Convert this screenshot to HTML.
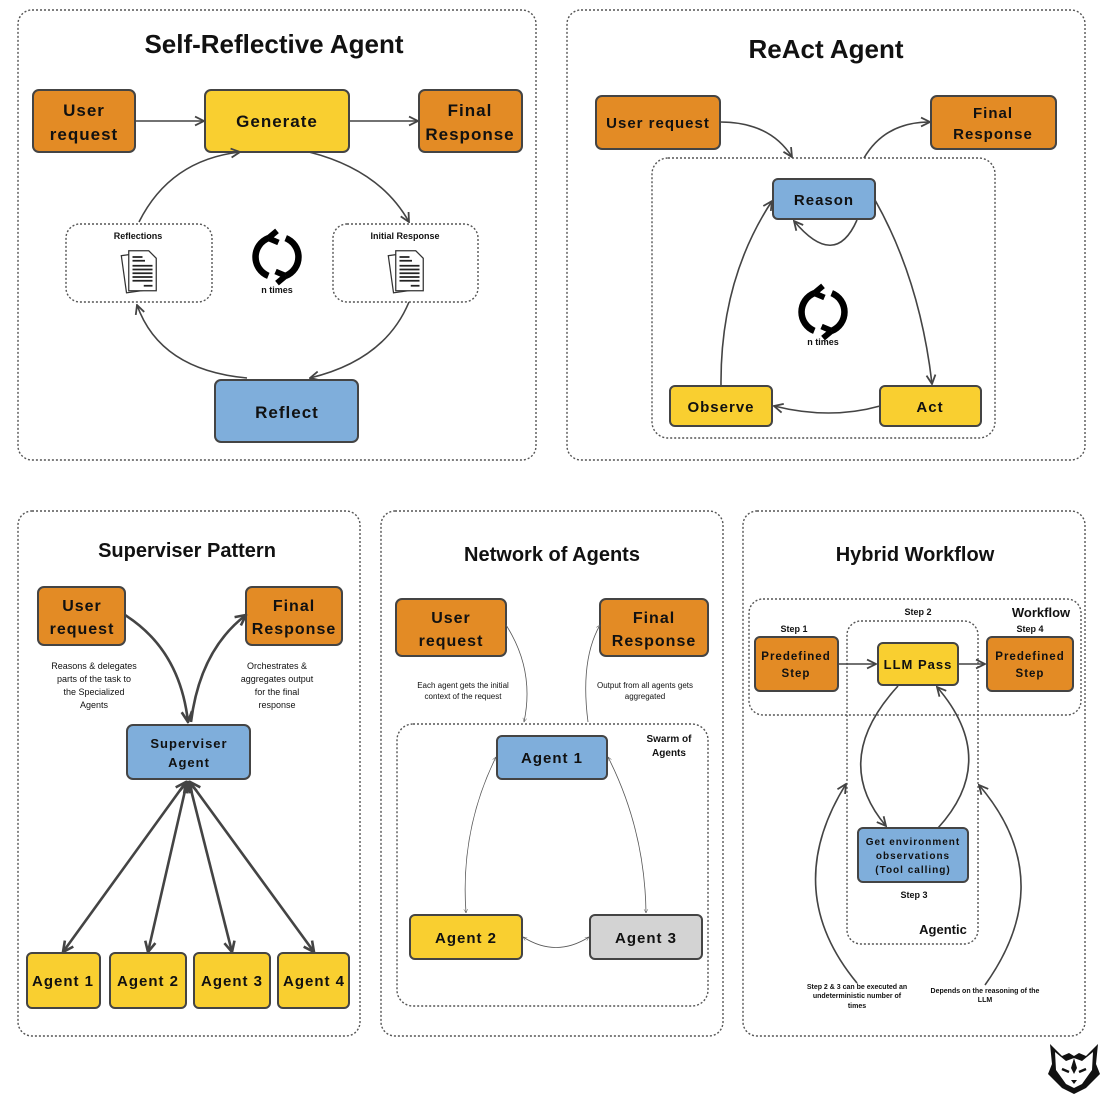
<!DOCTYPE html>
<html><head><meta charset="utf-8"><style>
html,body{margin:0;padding:0;background:#fff}
svg{display:block}
text{font-family:"Liberation Sans","DejaVu Sans",sans-serif;fill:#111}
.t{font-weight:bold;text-anchor:middle}
.l{letter-spacing:1px}
.box{stroke:#444;stroke-width:2}
.o{fill:#E38B25}.y{fill:#F9CF30}.b{fill:#7FAEDB}.g{fill:#D3D3D3}
.dot{fill:none;stroke:#555;stroke-width:1.4;stroke-dasharray:2 2}
.ln{fill:none;stroke:#444;stroke-width:1.6}
.th{fill:none;stroke:#444;stroke-width:2.6}
.tn{fill:none;stroke:#555;stroke-width:0.8}
.s{font-size:9px;text-anchor:middle}
</style></head><body>
<svg width="1106" height="1100" viewBox="0 0 1106 1100" xmlns="http://www.w3.org/2000/svg">
<defs>
<marker id="a" viewBox="0 0 10 10" refX="9" refY="5" markerWidth="7" markerHeight="7" orient="auto-start-reverse"><path d="M1,1 L9,5 L1,9" fill="none" stroke="#444" stroke-width="1.6"/></marker>
<marker id="at" viewBox="0 0 10 10" refX="9" refY="5" markerWidth="5" markerHeight="5" orient="auto-start-reverse"><path d="M1,1 L9,5 L1,9" fill="none" stroke="#444" stroke-width="2"/></marker>
<marker id="an" viewBox="0 0 10 10" refX="9" refY="5" markerWidth="6" markerHeight="6" orient="auto-start-reverse"><path d="M1,1 L9,5 L1,9" fill="none" stroke="#555" stroke-width="1"/></marker>
<g id="cyc"><path d="M-6,-13 A14,14 0 0 0 -6,13" fill="none" stroke="#000" stroke-width="4.5"/><path d="M-6,-13 l6,-5 M-6,-13 l7,3" stroke="#000" stroke-width="4"/><path d="M6,13 A14,14 0 0 0 6,-13" fill="none" stroke="#000" stroke-width="4.5"/><path d="M6,13 l-6,5 M6,13 l-7,-3" stroke="#000" stroke-width="4"/></g>
<g id="doc"><rect x="-13" y="-15" width="22" height="30" fill="#fff" stroke="#333" transform="rotate(-8)"/><path d="M-9,-17 h16 l6,6 v26 h-22 z" fill="#fff" stroke="#333"/><path d="M-6,-12 h8 M-6,-9 h10 M-6,-5 h16 M-6,-2 h16 M-6,1 h16 M-6,4 h16 M-6,7 h16 M3,11 h7" stroke="#222" stroke-width="1.4"/></g>
</defs>

<!-- Panel 1 -->
<rect x="18" y="10" width="518" height="450" rx="14" class="dot"/>
<text x="274" y="53" class="t" font-size="26">Self-Reflective Agent</text>
<rect x="33" y="90" width="102" height="62" rx="6" class="box o"/>
<text x="84" y="116" class="t l" font-size="17">User</text><text x="84" y="140" class="t l" font-size="17">request</text>
<rect x="205" y="90" width="144" height="62" rx="6" class="box y"/>
<text x="277" y="127" class="t l" font-size="17">Generate</text>
<rect x="419" y="90" width="103" height="62" rx="6" class="box o"/>
<text x="470" y="116" class="t l" font-size="17">Final</text><text x="470" y="140" class="t l" font-size="17">Response</text>
<rect x="215" y="380" width="143" height="62" rx="6" class="box b"/>
<text x="287" y="418" class="t l" font-size="17">Reflect</text>
<rect x="66" y="224" width="146" height="78" rx="14" class="dot"/>
<text x="138" y="239" class="t" font-size="9">Reflections</text>
<use href="#doc" transform="translate(140,272) scale(1.25)"/>
<rect x="333" y="224" width="145" height="78" rx="14" class="dot"/>
<text x="405" y="239" class="t" font-size="9">Initial Response</text>
<use href="#doc" transform="translate(407,272) scale(1.25)"/>
<use href="#cyc" transform="translate(277,257) scale(1.45)"/>
<text x="277" y="293" class="t" font-size="9">n times</text>
<line x1="135" y1="121" x2="204" y2="121" class="ln" marker-end="url(#a)"/>
<line x1="349" y1="121" x2="418" y2="121" class="ln" marker-end="url(#a)"/>
<path d="M139,222 Q170,160 240,152" class="ln" marker-end="url(#a)"/>
<path d="M309,152 Q380,170 409,222" class="ln" marker-end="url(#a)"/>
<path d="M409,302 Q385,360 310,378" class="ln" marker-end="url(#a)"/>
<path d="M247,378 Q160,370 137,305" class="ln" marker-end="url(#a)"/>

<!-- Panel 2 -->
<rect x="567" y="10" width="518" height="450" rx="14" class="dot"/>
<text x="826" y="58" class="t" font-size="26">ReAct Agent</text>
<rect x="652" y="158" width="343" height="280" rx="16" class="dot"/>
<rect x="596" y="96" width="124" height="53" rx="6" class="box o"/>
<text x="658" y="128" class="t l" font-size="15">User request</text>
<rect x="931" y="96" width="125" height="53" rx="6" class="box o"/>
<text x="993" y="118" class="t l" font-size="15">Final</text><text x="993" y="139" class="t l" font-size="15">Response</text>
<rect x="773" y="179" width="102" height="40" rx="5" class="box b"/>
<text x="824" y="205" class="t l" font-size="15">Reason</text>
<rect x="670" y="386" width="102" height="40" rx="5" class="box y"/>
<text x="721" y="412" class="t l" font-size="15">Observe</text>
<rect x="880" y="386" width="101" height="40" rx="5" class="box y"/>
<text x="930" y="412" class="t l" font-size="15">Act</text>
<use href="#cyc" transform="translate(823,312) scale(1.45)"/>
<text x="823" y="345" class="t" font-size="9">n times</text>
<path d="M720,122 Q770,122 792,157" class="ln" marker-end="url(#a)"/>
<path d="M864,158 Q885,122 930,122" class="ln" marker-end="url(#a)"/>
<path d="M857,220 Q835,270 794,221" class="ln" marker-end="url(#a)"/>
<path d="M875,200 Q920,280 932,384" class="ln" marker-end="url(#a)"/>
<path d="M880,406 Q830,420 774,406" class="ln" marker-end="url(#a)"/>
<path d="M721,386 Q720,280 772,201" class="ln" marker-end="url(#a)"/>

<!-- Panel 3 -->
<rect x="18" y="511" width="342" height="525" rx="14" class="dot"/>
<text x="187" y="557" class="t" font-size="20">Superviser Pattern</text>
<rect x="38" y="587" width="87" height="58" rx="6" class="box o"/>
<text x="82" y="611" class="t l" font-size="16">User</text><text x="82" y="634" class="t l" font-size="16">request</text>
<rect x="246" y="587" width="96" height="58" rx="6" class="box o"/>
<text x="294" y="611" class="t l" font-size="16">Final</text><text x="294" y="634" class="t l" font-size="16">Response</text>
<rect x="127" y="725" width="123" height="54" rx="6" class="box b"/>
<text x="189" y="748" class="t l" font-size="13">Superviser</text><text x="189" y="767" class="t l" font-size="13">Agent</text>
<g class="s"><text x="94" y="669">Reasons &amp; delegates</text><text x="94" y="682">parts of the task to</text><text x="94" y="695">the Specialized</text><text x="94" y="708">Agents</text>
<text x="277" y="669">Orchestrates &amp;</text><text x="277" y="682">aggregates output</text><text x="277" y="695">for the final</text><text x="277" y="708">response</text></g>
<path d="M125,615 Q180,650 188,722" class="th" marker-end="url(#at)"/>
<path d="M191,722 Q200,650 246,615" class="th" marker-end="url(#at)"/>
<g class="th">
<line x1="186" y1="782" x2="63" y2="952" marker-start="url(#at)" marker-end="url(#at)"/>
<line x1="187" y1="782" x2="148" y2="952" marker-start="url(#at)" marker-end="url(#at)"/>
<line x1="189" y1="782" x2="232" y2="952" marker-start="url(#at)" marker-end="url(#at)"/>
<line x1="190" y1="782" x2="314" y2="952" marker-start="url(#at)" marker-end="url(#at)"/>
</g>
<rect x="27" y="953" width="73" height="55" rx="5" class="box y"/><text x="63" y="986" class="t l" font-size="15">Agent 1</text>
<rect x="110" y="953" width="76" height="55" rx="5" class="box y"/><text x="148" y="986" class="t l" font-size="15">Agent 2</text>
<rect x="194" y="953" width="76" height="55" rx="5" class="box y"/><text x="232" y="986" class="t l" font-size="15">Agent 3</text>
<rect x="278" y="953" width="71" height="55" rx="5" class="box y"/><text x="314" y="986" class="t l" font-size="15">Agent 4</text>

<!-- Panel 4 -->
<rect x="381" y="511" width="342" height="525" rx="14" class="dot"/>
<text x="552" y="561" class="t" font-size="20">Network of Agents</text>
<rect x="397" y="724" width="311" height="282" rx="16" class="dot"/>
<text x="669" y="742" class="t" font-size="10">Swarm of</text><text x="669" y="756" class="t" font-size="10">Agents</text>
<rect x="396" y="599" width="110" height="57" rx="6" class="box o"/>
<text x="451" y="623" class="t l" font-size="16">User</text><text x="451" y="646" class="t l" font-size="16">request</text>
<rect x="600" y="599" width="108" height="57" rx="6" class="box o"/>
<text x="654" y="623" class="t l" font-size="16">Final</text><text x="654" y="646" class="t l" font-size="16">Response</text>
<g class="s"><text x="463" y="688" font-size="8">Each agent gets the initial</text><text x="463" y="699" font-size="8">context of the request</text>
<text x="645" y="688" font-size="8">Output from all agents gets</text><text x="645" y="699" font-size="8">aggregated</text></g>
<rect x="497" y="736" width="110" height="43" rx="5" class="box b"/><text x="552" y="763" class="t l" font-size="15">Agent 1</text>
<rect x="410" y="915" width="112" height="44" rx="5" class="box y"/><text x="466" y="943" class="t l" font-size="15">Agent 2</text>
<rect x="590" y="915" width="112" height="44" rx="5" class="box g"/><text x="646" y="943" class="t l" font-size="15">Agent 3</text>
<path d="M506,625 Q535,670 524,722" class="tn" marker-end="url(#an)"/>
<path d="M588,722 Q580,660 600,625" class="tn" marker-end="url(#an)"/>
<path d="M496,757 Q460,830 466,913" class="tn" marker-start="url(#an)" marker-end="url(#an)"/>
<path d="M608,757 Q645,830 646,913" class="tn" marker-start="url(#an)" marker-end="url(#an)"/>
<path d="M523,937 Q556,958 589,937" class="tn" marker-start="url(#an)" marker-end="url(#an)"/>

<!-- Panel 5 -->
<rect x="743" y="511" width="342" height="525" rx="14" class="dot"/>
<text x="915" y="561" class="t" font-size="20">Hybrid Workflow</text>
<rect x="749" y="599" width="332" height="116" rx="14" class="dot"/>
<rect x="847" y="621" width="131" height="323" rx="14" class="dot"/>
<text x="1041" y="617" class="t" font-size="13">Workflow</text>
<text x="943" y="934" class="t" font-size="13">Agentic</text>
<text x="794" y="632" class="t" font-size="9">Step 1</text>
<text x="918" y="615" class="t" font-size="9">Step 2</text>
<text x="1030" y="632" class="t" font-size="9">Step 4</text>
<text x="914" y="898" class="t" font-size="9">Step 3</text>
<rect x="755" y="637" width="83" height="54" rx="5" class="box o"/>
<text x="796" y="660" class="t l" font-size="11.5">Predefined</text><text x="796" y="677" class="t l" font-size="11.5">Step</text>
<rect x="987" y="637" width="86" height="54" rx="5" class="box o"/>
<text x="1030" y="660" class="t l" font-size="11.5">Predefined</text><text x="1030" y="677" class="t l" font-size="11.5">Step</text>
<rect x="878" y="643" width="80" height="42" rx="5" class="box y"/>
<text x="918" y="669" class="t l" font-size="13">LLM Pass</text>
<rect x="858" y="828" width="110" height="54" rx="5" class="box b"/>
<g class="t l" font-size="10"><text x="913" y="845">Get environment</text><text x="913" y="859">observations</text><text x="913" y="873">(Tool calling)</text></g>
<line x1="838" y1="664" x2="876" y2="664" class="ln" marker-end="url(#a)"/>
<line x1="958" y1="664" x2="985" y2="664" class="ln" marker-end="url(#a)"/>
<path d="M898,686 Q830,760 886,826" class="ln" marker-end="url(#a)"/>
<path d="M938,828 Q1000,760 937,687" class="ln" marker-end="url(#a)"/>
<path d="M857,983 Q780,890 846,784" class="ln" marker-end="url(#a)"/>
<path d="M985,985 Q1060,880 979,785" class="ln" marker-end="url(#a)"/>
<g class="t" font-size="7"><text x="857" y="989">Step 2 &amp; 3 can be executed an</text><text x="857" y="998">undeterministic number of</text><text x="857" y="1008">times</text>
<text x="985" y="993">Depends on the reasoning of the</text><text x="985" y="1002">LLM</text></g>

<!-- logo -->
<g transform="translate(1074,1070)">
<path d="M-24,-26 L-12,-14 L-5,-17 L0,-14 L5,-17 L12,-14 L24,-26 L22,-6 L26,4 L12,18 L0,24 L-12,18 L-26,4 L-22,-6 Z" fill="#111"/>
<path d="M-19,-18 L-8,-9 L0,-12 L8,-9 L19,-18 L18,0 L8,14 L0,18 L-8,14 L-18,0 Z" fill="#fff"/>
<path d="M0,-12 L-3,-2 L0,4 L3,-2 Z" fill="#111"/>
<path d="M-12,-1 l7,3 M5,2 l7,-3" stroke="#111" stroke-width="2.5"/>
<path d="M-3,10 h6 l-3,4z" fill="#111"/>
</g>
</svg>
</body></html>
